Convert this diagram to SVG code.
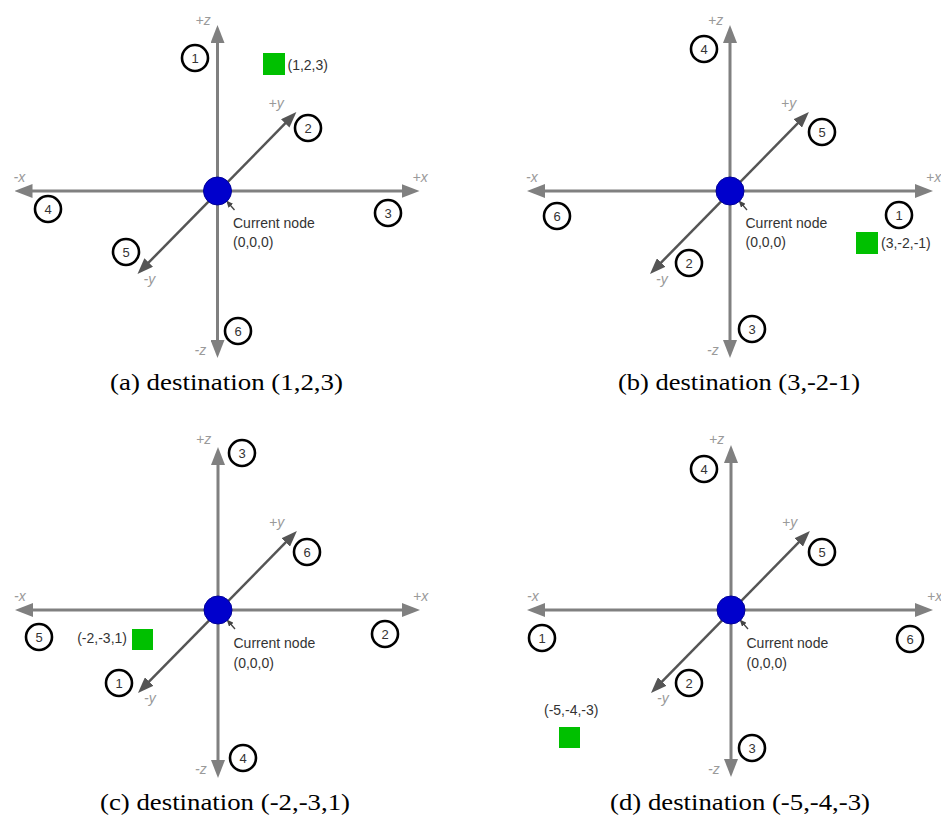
<svg xmlns="http://www.w3.org/2000/svg" width="941" height="816" viewBox="0 0 941 816">
<style>
  .ax{stroke:#808080;stroke-width:3;fill:none;marker-start:url(#ah);marker-end:url(#ah)}
  .dg{stroke:#555;stroke-width:2.5;fill:none;marker-start:url(#ahd);marker-end:url(#ahd)}
  .ptr{stroke:#444;stroke-width:1.4;fill:none;marker-end:url(#ahp)}
  .axl{font-family:"Liberation Sans",Arial,sans-serif;font-size:14px;font-style:italic;fill:#9a9a9a}
  .num circle{fill:#fff;stroke:#000;stroke-width:2.6}
  .num text{font-family:"Liberation Sans",Arial,sans-serif;font-size:13px;fill:#333;text-anchor:middle}
  .cur{fill:#0000cc;stroke:#00009a;stroke-width:1}
  .dst{fill:#00c000}
  .lbl{font-family:"Liberation Sans",Arial,sans-serif;font-size:14px;fill:#333}
  .cap{font-family:"Liberation Serif","Times New Roman",serif;font-size:23px;fill:#000}
</style>
<defs>
  <marker id="ah" viewBox="0 0 18 14" refX="9" refY="7" markerWidth="18" markerHeight="14" markerUnits="userSpaceOnUse" orient="auto-start-reverse"><path d="M0,0 L18,7 L0,14 z" fill="#808080"/></marker>
  <marker id="ahd" viewBox="0 0 16 12" refX="8" refY="6" markerWidth="16" markerHeight="12" markerUnits="userSpaceOnUse" orient="auto-start-reverse"><path d="M0,0 L16,6 L0,12 z" fill="#555"/></marker>
  <marker id="ahp" viewBox="0 0 7 6" refX="5" refY="3" markerWidth="7" markerHeight="6" markerUnits="userSpaceOnUse" orient="auto"><path d="M0,0 L7,3 L0,6 z" fill="#444"/></marker>
</defs>

<!-- Panel (a) -->
<g id="panel-a" transform="translate(217.5,191)">
  <g id="a-connectors">
    <line class="ax" x1="0" y1="158" x2="0" y2="-157"/>
    <line class="ax" x1="-194" y1="0" x2="193" y2="0"/>
    <line class="dg" x1="-74.4" y1="77.2" x2="73.3" y2="-73.3"/>
    <line class="ptr" x1="17" y1="19" x2="10" y2="11"/>
  </g>
  <g id="a-axis-labels">
    <text class="axl" x="-22" y="-166">+z</text>
    <text class="axl" x="-23" y="164">-z</text>
    <text class="axl" x="-204" y="-9">-x</text>
    <text class="axl" x="195" y="-9">+x</text>
    <text class="axl" x="51" y="-83">+y</text>
    <text class="axl" x="-74" y="93">-y</text>
  </g>
  <g id="a-current"><circle class="cur" cx="0" cy="0" r="14"/>
    <text class="lbl" x="15.5" y="37">Current node</text><text class="lbl" x="15.5" y="56">(0,0,0)</text></g>
  <g id="a-n1" class="num"><circle cx="-22.5" cy="-133" r="13"/><text x="-22.5" y="-128.5">1</text></g>
  <g id="a-n2" class="num"><circle cx="90.5" cy="-63" r="13"/><text x="90.5" y="-58.5">2</text></g>
  <g id="a-n3" class="num"><circle cx="170.5" cy="22" r="13"/><text x="170.5" y="26.5">3</text></g>
  <g id="a-n4" class="num"><circle cx="-169.5" cy="18" r="13"/><text x="-169.5" y="22.5">4</text></g>
  <g id="a-n5" class="num"><circle cx="-91.5" cy="61" r="13"/><text x="-91.5" y="65.5">5</text></g>
  <g id="a-n6" class="num"><circle cx="20.5" cy="140" r="13"/><text x="20.5" y="144.5">6</text></g>
  <g id="a-dest"><rect class="dst" x="45.5" y="-138" width="22" height="22"/><text class="lbl" x="70" y="-121">(1,2,3)</text></g>
</g>

<!-- Panel (b) -->
<g id="panel-b" transform="translate(730,191)">
  <g id="b-connectors">
    <line class="ax" x1="0" y1="158" x2="0" y2="-157"/>
    <line class="ax" x1="-194" y1="0" x2="194" y2="0"/>
    <line class="dg" x1="-74.4" y1="77.2" x2="73.3" y2="-73.3"/>
    <line class="ptr" x1="17" y1="19" x2="10" y2="11"/>
  </g>
  <g id="b-axis-labels">
    <text class="axl" x="-22" y="-166">+z</text>
    <text class="axl" x="-23" y="164">-z</text>
    <text class="axl" x="-204" y="-9">-x</text>
    <text class="axl" x="196" y="-9">+x</text>
    <text class="axl" x="51" y="-83">+y</text>
    <text class="axl" x="-74" y="93">-y</text>
  </g>
  <g id="b-current"><circle class="cur" cx="0" cy="0" r="14"/>
    <text class="lbl" x="15.5" y="37">Current node</text><text class="lbl" x="15.5" y="56">(0,0,0)</text></g>
  <g id="b-n4" class="num"><circle cx="-26" cy="-142" r="13"/><text x="-26" y="-137.5">4</text></g>
  <g id="b-n5" class="num"><circle cx="92" cy="-59" r="13"/><text x="92" y="-54.5">5</text></g>
  <g id="b-n6" class="num"><circle cx="-173" cy="25" r="13"/><text x="-173" y="29.5">6</text></g>
  <g id="b-n1" class="num"><circle cx="169" cy="24" r="13"/><text x="169" y="28.5">1</text></g>
  <g id="b-n2" class="num"><circle cx="-41" cy="72" r="13"/><text x="-41" y="76.5">2</text></g>
  <g id="b-n3" class="num"><circle cx="22" cy="138" r="13"/><text x="22" y="142.5">3</text></g>
  <g id="b-dest"><rect class="dst" x="126" y="41" width="22" height="22"/><text class="lbl" x="151" y="57">(3,-2,-1)</text></g>
</g>

<!-- Panel (c) -->
<g id="panel-c" transform="translate(218,610)">
  <g id="c-connectors">
    <line class="ax" x1="0" y1="159" x2="0" y2="-154"/>
    <line class="ax" x1="-194" y1="0" x2="193" y2="0"/>
    <line class="dg" x1="-74.4" y1="77.2" x2="73.3" y2="-73.3"/>
    <line class="ptr" x1="17" y1="19" x2="10" y2="11"/>
  </g>
  <g id="c-axis-labels">
    <text class="axl" x="-22" y="-166">+z</text>
    <text class="axl" x="-23" y="164">-z</text>
    <text class="axl" x="-204" y="-9">-x</text>
    <text class="axl" x="195" y="-9">+x</text>
    <text class="axl" x="51" y="-83">+y</text>
    <text class="axl" x="-74" y="93">-y</text>
  </g>
  <g id="c-current"><circle class="cur" cx="0" cy="0" r="14"/>
    <text class="lbl" x="15.5" y="38">Current node</text><text class="lbl" x="15.5" y="58">(0,0,0)</text></g>
  <g id="c-n3" class="num"><circle cx="24" cy="-157" r="13"/><text x="24" y="-152.5">3</text></g>
  <g id="c-n6" class="num"><circle cx="89" cy="-58" r="13"/><text x="89" y="-53.5">6</text></g>
  <g id="c-n5" class="num"><circle cx="-179" cy="27" r="13"/><text x="-179" y="31.5">5</text></g>
  <g id="c-n2" class="num"><circle cx="167" cy="24" r="13"/><text x="167" y="28.5">2</text></g>
  <g id="c-n1" class="num"><circle cx="-99" cy="73" r="13"/><text x="-99" y="77.5">1</text></g>
  <g id="c-n4" class="num"><circle cx="25" cy="148" r="13"/><text x="25" y="152.5">4</text></g>
  <g id="c-dest"><rect class="dst" x="-86" y="19" width="21" height="21"/><text class="lbl" x="-91" y="33" text-anchor="end">(-2,-3,1)</text></g>
</g>

<!-- Panel (d) -->
<g id="panel-d" transform="translate(731,610)">
  <g id="d-connectors">
    <line class="ax" x1="0" y1="158" x2="0" y2="-156"/>
    <line class="ax" x1="-195" y1="0" x2="193" y2="0"/>
    <line class="dg" x1="-74.4" y1="77.2" x2="73.3" y2="-73.3"/>
    <line class="ptr" x1="17" y1="19" x2="10" y2="11"/>
  </g>
  <g id="d-axis-labels">
    <text class="axl" x="-22" y="-166">+z</text>
    <text class="axl" x="-23" y="164">-z</text>
    <text class="axl" x="-204" y="-9">-x</text>
    <text class="axl" x="196" y="-9">+x</text>
    <text class="axl" x="51" y="-83">+y</text>
    <text class="axl" x="-74" y="93">-y</text>
  </g>
  <g id="d-current"><circle class="cur" cx="0" cy="0" r="14"/>
    <text class="lbl" x="15.5" y="38">Current node</text><text class="lbl" x="15.5" y="58">(0,0,0)</text></g>
  <g id="d-n4" class="num"><circle cx="-27" cy="-141" r="13"/><text x="-27" y="-136.5">4</text></g>
  <g id="d-n5" class="num"><circle cx="91" cy="-58" r="13"/><text x="91" y="-53.5">5</text></g>
  <g id="d-n1" class="num"><circle cx="-189" cy="28" r="13"/><text x="-189" y="32.5">1</text></g>
  <g id="d-n6" class="num"><circle cx="179" cy="29" r="13"/><text x="179" y="33.5">6</text></g>
  <g id="d-n2" class="num"><circle cx="-42" cy="73" r="13"/><text x="-42" y="77.5">2</text></g>
  <g id="d-n3" class="num"><circle cx="21" cy="138" r="13"/><text x="21" y="142.5">3</text></g>
  <g id="d-dest"><rect class="dst" x="-172" y="117" width="21" height="21"/><text class="lbl" x="-187" y="105">(-5,-4,-3)</text></g>
</g>

<g id="captions">
  <text class="cap" x="110" y="390" textLength="233" lengthAdjust="spacingAndGlyphs">(a) destination (1,2,3)</text>
  <text class="cap" x="618" y="390" textLength="242" lengthAdjust="spacingAndGlyphs">(b) destination (3,-2-1)</text>
  <text class="cap" x="100" y="810" textLength="250" lengthAdjust="spacingAndGlyphs">(c) destination (-2,-3,1)</text>
  <text class="cap" x="610" y="810" textLength="260" lengthAdjust="spacingAndGlyphs">(d) destination (-5,-4,-3)</text>
</g>
</svg>
